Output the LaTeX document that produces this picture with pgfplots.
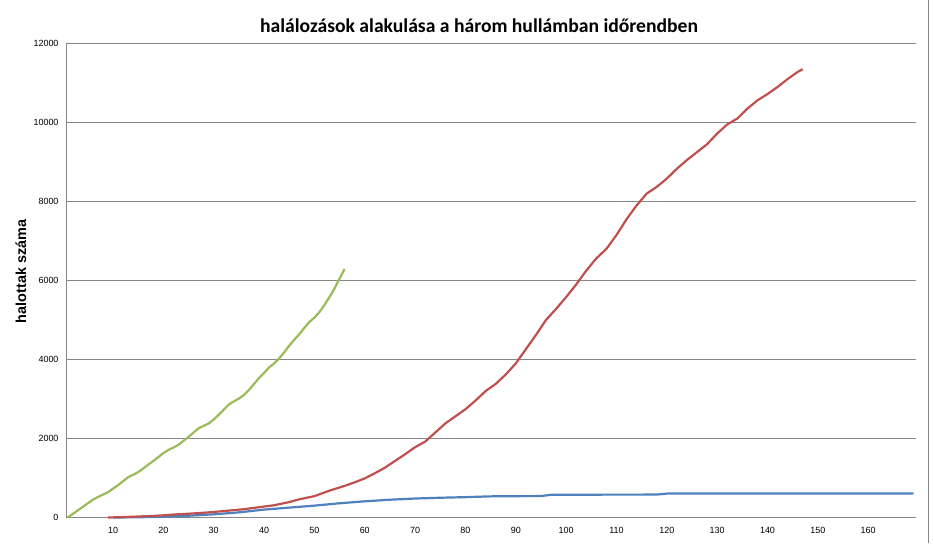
\documentclass[border=0pt]{standalone}
\usepackage{pgfplots}
\pgfplotsset{compat=1.18}
\usepackage{fontspec}
\setmainfont{Liberation Sans}
\newfontfamily\carlito{Carlito}
\definecolor{xlblue}{HTML}{4F81BD}
\definecolor{xlred}{HTML}{C0504D}
\definecolor{xlgreen}{HTML}{9BBB59}
\definecolor{xlgrid}{HTML}{868686}
\begin{document}
\begin{tikzpicture}[x=1bp,y=1bp]
  \path (0,0) rectangle (933,543);
  \draw[xlgrid, line width=1bp] (928,0) -- (928,543);
  \node[font=\carlito\bfseries\fontsize{19.7}{22}\selectfont] at (479,518) {halálozások alakulása a három hullámban időrendben};
  \node[font=\bfseries\fontsize{14.5}{16}\selectfont, rotate=90] at (21,272) {halottak száma};
  \begin{axis}[
      at={(66bp,26bp)}, anchor=south west,
      scale only axis, width=850bp, height=474bp,
      xmin=0.66, xmax=169.5, ymin=0, ymax=12000,
      xtick={10,20,...,160},
      ytick={0,2000,...,12000},
      axis x line*=bottom, axis y line*=left,
      axis line style={xlgrid, line width=1bp, -},
      ymajorgrids, major grid style={xlgrid, line width=1bp},
      major tick length=0pt,
      tick style={draw=none},
      scaled ticks=false,
      /pgf/number format/1000 sep={},
      /pgf/number format/assume math mode=true,
      tick label style={font=\fontsize{9}{10}\selectfont},
      xticklabel style={yshift=-6bp},
      yticklabel style={xshift=-4bp},
      every axis plot/.append style={line width=2.2bp, line join=round},
      clip=false,
    ]
    % 1. hullam
    \addplot[xlblue] coordinates {
      (10,0) (15,5) (20,20) (25,45) (30,80) (35,130) (40,200) (45,250)
      (50,300) (55,360) (60,410) (65,450) (70,480) (75,500) (80,515)
      (85,535) (90,540) (95,542) (97,575) (105,578) (118,580) (120,605)
      (140,607) (169,610)};
    % 2. hullam
    \addplot[xlred] coordinates {
      (9,0) (12,10) (15,25) (18,40) (20,55) (22,75) (25,95) (28,120)
      (30,140) (33,175) (36,210) (39,260) (42,310) (45,390) (47,460)
      (50,540) (53,680) (56,800) (58,890) (60,990) (62,1120) (64,1260)
      (66,1430) (68,1600) (70,1780) (72,1920) (74,2150) (76,2380)
      (78,2560) (80,2740) (82,2960) (84,3200) (86,3380) (88,3620)
      (90,3900) (92,4260) (94,4620) (96,5000) (98,5280) (100,5580)
      (102,5900) (104,6250) (106,6560) (108,6800) (110,7150) (112,7550)
      (114,7900) (116,8200) (118,8370) (120,8580) (122,8830) (124,9050)
      (126,9250) (128,9450) (130,9720) (132,9950) (134,10100) (136,10350)
      (138,10560) (140,10720) (142,10900) (144,11100) (146,11280) (147,11350)};
    % 3. hullam
    \addplot[xlgreen] coordinates {
      (1,0) (2,90) (3,180) (4,270) (5,360) (6,450) (7,520) (8,580)
      (9,640) (10,730) (11,820) (12,920) (13,1020) (14,1080) (15,1150)
      (16,1240) (17,1340) (18,1430) (19,1530) (20,1630) (21,1710)
      (22,1770) (23,1840) (24,1940) (25,2040) (26,2150) (27,2260)
      (28,2320) (29,2380) (30,2480) (31,2600) (32,2730) (33,2860)
      (34,2940) (35,3010) (36,3100) (37,3230) (38,3380) (39,3530)
      (40,3660) (41,3800) (42,3900) (43,4030) (44,4180) (45,4350)
      (46,4500) (47,4640) (48,4800) (49,4950) (50,5060) (51,5200)
      (52,5380) (53,5580) (54,5800) (55,6050) (56,6290)};
  \end{axis}
\end{tikzpicture}
\end{document}
